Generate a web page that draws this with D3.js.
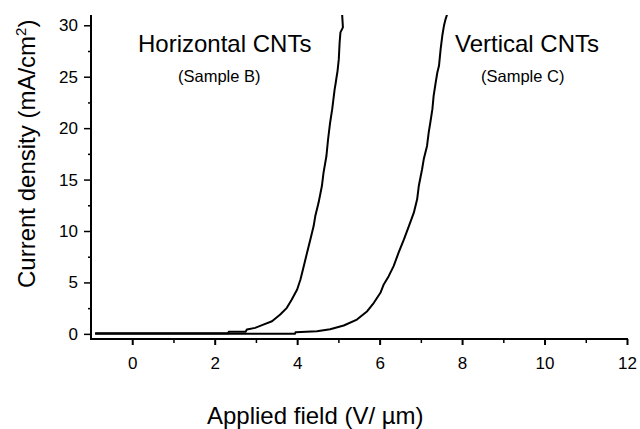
<!DOCTYPE html>
<html>
<head>
<meta charset="utf-8">
<script src="https://cdn.jsdelivr.net/npm/d3@7"></script>
<style>
  html, body { margin: 0; padding: 0; background: #fff; }
  svg { display: block; }
  text { font-family: "Liberation Sans", Arial, sans-serif; fill: #000; }
</style>
</head>
<body>
<svg id="chart" width="640" height="429"></svg>
<script>
// ---- data ----
const xTicks = [0, 2, 4, 6, 8, 10, 12];
const xMinorTicks = [1, 3, 5, 7, 9, 11];
const yTicks = [0, 5, 10, 15, 20, 25, 30];
const yMinorTicks = [2.5, 7.5, 12.5, 17.5, 22.5, 27.5];

// Sample B: Horizontal CNTs
const horizField = [-0.9, 2.33, 2.34, 2.75, 2.78, 2.98, 3.18, 3.39, 3.59, 3.75, 3.87, 4.0, 4.08, 4.16, 4.24, 4.32, 4.4, 4.44, 4.52, 4.6, 4.64, 4.71, 4.75, 4.8, 4.85, 4.88, 4.91, 4.93, 4.95, 4.98, 5.01, 5.03, 5.05, 5.11, 5.09];
const horizCurrent = [0.05, 0.05, 0.2, 0.2, 0.42, 0.58, 0.9, 1.23, 1.88, 2.53, 3.34, 4.31, 5.29, 6.58, 7.89, 9.18, 10.48, 11.45, 12.76, 14.37, 15.68, 17.29, 18.92, 20.55, 21.84, 22.81, 23.79, 24.27, 24.8, 25.57, 26.71, 28.33, 29.31, 29.8, 31.1];

// Sample C: Vertical CNTs
const vertField = [-0.9, 3.95, 3.96, 4.48, 4.8, 5.13, 5.45, 5.7, 5.86, 6.02, 6.1, 6.22, 6.34, 6.46, 6.59, 6.71, 6.83, 6.91, 6.95, 7.03, 7.07, 7.15, 7.19, 7.23, 7.28, 7.31, 7.36, 7.4, 7.44, 7.48, 7.52, 7.56, 7.6, 7.64];
const vertCurrent = [0.0, 0.0, 0.16, 0.25, 0.45, 0.81, 1.39, 2.2, 3.02, 3.99, 4.8, 5.61, 6.58, 7.89, 9.18, 10.48, 11.78, 13.08, 14.37, 16.0, 16.97, 18.27, 19.57, 20.55, 21.84, 23.13, 24.44, 25.41, 26.06, 27.68, 28.98, 29.95, 30.6, 31.1];

// ---- layout ----
const svg = d3.select("#chart");
const mLeft = 91, mRight = 627, mTop = 15, mBottom = 339;

const x = d3.scaleLinear().domain([-1, 12]).range([mLeft, mRight]);
const y = d3.scaleLinear().domain([-0.5, 31]).range([mBottom, mTop]);

svg.append("defs").append("clipPath").attr("id", "plotclip")
  .append("rect").attr("x", mLeft).attr("y", mTop).attr("width", mRight - mLeft).attr("height", mBottom - mTop);

// curves
const line = d3.line().x(d => x(d[0])).y(d => y(d[1]));
const seriesB = horizField.map((v, i) => [v, horizCurrent[i]]);
const seriesC = vertField.map((v, i) => [v, vertCurrent[i]]);

const plot = svg.append("g").attr("clip-path", "url(#plotclip)");
[seriesC, seriesB].forEach(s => {
  plot.append("path").datum(s).attr("d", line)
    .attr("fill", "none").attr("stroke", "#000").attr("stroke-width", 2)
    .attr("stroke-linejoin", "round");
});

// x axis
const xAxis = d3.axisBottom(x).tickValues(xTicks).tickSize(6).tickPadding(12).tickFormat(d3.format("d"));
const gx = svg.append("g").attr("transform", `translate(0,${mBottom})`).call(xAxis);
gx.select(".domain").remove();
gx.selectAll(".tick line").attr("stroke", "#000").attr("stroke-width", 2);
gx.selectAll(".tick text").attr("font-size", 17).attr("font-family", "Liberation Sans, Arial, sans-serif");
const xMinor = d3.axisBottom(x).tickValues(xMinorTicks).tickSize(4).tickFormat("");
const gxm = svg.append("g").attr("transform", `translate(0,${mBottom})`).call(xMinor);
gxm.select(".domain").remove();
gxm.selectAll(".tick line").attr("stroke", "#000").attr("stroke-width", 1.5);

// y axis
const yAxis = d3.axisLeft(y).tickValues(yTicks).tickSize(7).tickPadding(6).tickFormat(d3.format("d"));
const gy = svg.append("g").attr("transform", `translate(${mLeft},0)`).call(yAxis);
gy.select(".domain").remove();
gy.selectAll(".tick line").attr("stroke", "#000").attr("stroke-width", 1.5);
gy.selectAll(".tick text").attr("font-size", 17).attr("font-family", "Liberation Sans, Arial, sans-serif");
const yMinor = d3.axisLeft(y).tickValues(yMinorTicks).tickSize(3).tickFormat("");
const gym = svg.append("g").attr("transform", `translate(${mLeft},0)`).call(yMinor);
gym.select(".domain").remove();
gym.selectAll(".tick line").attr("stroke", "#000").attr("stroke-width", 1.5);

// axis lines
svg.append("line").attr("x1", mLeft).attr("x2", mLeft).attr("y1", mTop).attr("y2", mBottom + 1)
  .attr("stroke", "#000").attr("stroke-width", 2);
svg.append("line").attr("x1", mLeft - 1).attr("x2", mRight + 1).attr("y1", mBottom).attr("y2", mBottom)
  .attr("stroke", "#000").attr("stroke-width", 2);

// axis titles
svg.append("text").attr("x", 207).attr("y", 424).attr("font-size", 24)
  .text("Applied field (V/ µm)");
const yt = svg.append("text").attr("transform", "translate(35,288) rotate(-90)")
  .attr("font-size", 24);
yt.append("tspan").text("Current density (mA/cm");
yt.append("tspan").attr("font-size", 15).attr("dy", -9).text("2");
yt.append("tspan").attr("dy", 9).text(")");

// annotations
svg.append("text").attr("x", 138).attr("y", 52).attr("font-size", 24).text("Horizontal CNTs");
svg.append("text").attr("x", 178).attr("y", 82).attr("font-size", 16.5).text("(Sample B)");
svg.append("text").attr("x", 455).attr("y", 52).attr("font-size", 24).text("Vertical CNTs");
svg.append("text").attr("x", 481).attr("y", 82).attr("font-size", 16.5).text("(Sample C)");
</script>
</body>
</html>
